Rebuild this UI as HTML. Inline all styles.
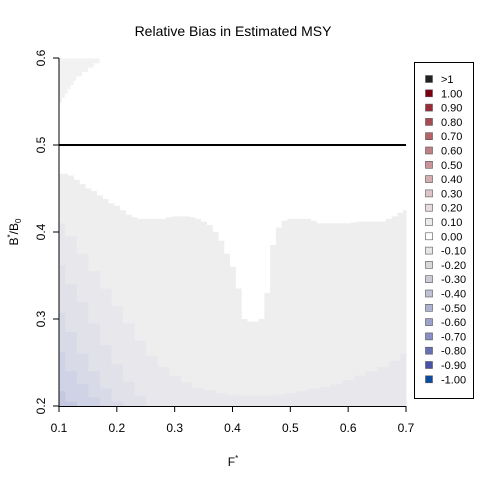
<!DOCTYPE html>
<html><head><meta charset="utf-8"><style>
body{margin:0;background:#fff;font-family:"Liberation Sans",sans-serif}
svg text{font-family:"Liberation Sans",sans-serif}
</style></head><body>
<svg id="c" width="480" height="480" xmlns="http://www.w3.org/2000/svg">
<text x="233" y="36" font-size="14" text-anchor="middle">Relative Bias in Estimated MSY</text>
<g id="plot"></g>
<g id="axes"></g>
<g id="legend"></g>
</svg>
<script>
const xFine=[0.10,0.11,0.12,0.13,0.14,0.15,0.16,0.17,0.18,0.19,0.20,0.21,0.22,0.23,0.24,0.25,0.26,0.27,0.28,0.29,0.30,0.31,0.32,0.33,0.34,0.35,0.36,0.37,0.38,0.39,0.40,0.41,0.42,0.43,0.44,0.45,0.46,0.47,0.48,0.49,0.50,0.51,0.52,0.53,0.54,0.55,0.56,0.57,0.58,0.59,0.60,0.61,0.62,0.63,0.64,0.65,0.66,0.67,0.68,0.69,0.70];
const level01Top=[0.467,0.467,0.465,0.46,0.455,0.45,0.447,0.442,0.438,0.433,0.43,0.425,0.42,0.417,0.415,0.415,0.415,0.415,0.415,0.417,0.418,0.418,0.418,0.417,0.415,0.412,0.408,0.40,0.39,0.375,0.36,0.335,0.30,0.297,0.297,0.30,0.33,0.385,0.405,0.413,0.415,0.415,0.415,0.415,0.413,0.41,0.41,0.41,0.41,0.41,0.41,0.411,0.412,0.412,0.412,0.412,0.412,0.415,0.418,0.422,0.425];
const xGrid=[0.10,0.12,0.14,0.16,0.18,0.20,0.22,0.24,0.26,0.28,0.30,0.32,0.34,0.36,0.38,0.40,0.42,0.44,0.46,0.48,0.50,0.52,0.54,0.56,0.58,0.60,0.62,0.64,0.66,0.68,0.70];
const level02Top=[0.41,0.395,0.375,0.355,0.335,0.315,0.295,0.275,0.258,0.245,0.235,0.227,0.221,0.218,0.215,0.213,0.212,0.212,0.212,0.213,0.215,0.217,0.22,0.222,0.225,0.23,0.235,0.24,0.245,0.252,0.26];
const level03Top=[0.362,0.34,0.32,0.295,0.27,0.248,0.228,0.212,0.2,0.2,0.2,0.2,0.2,0.2,0.2,0.2,0.2,0.2,0.2,0.2,0.2,0.2,0.2,0.2,0.2,0.2,0.2,0.2,0.2,0.2,0.2];
const level04Top=[0.307,0.285,0.26,0.24,0.22,0.205,0.2,0.2,0.2,0.2,0.2,0.2,0.2,0.2,0.2,0.2,0.2,0.2,0.2,0.2,0.2,0.2,0.2,0.2,0.2,0.2,0.2,0.2,0.2,0.2,0.2];
const level05Top=[0.262,0.24,0.225,0.21,0.2,0.2,0.2,0.2,0.2,0.2,0.2,0.2,0.2,0.2,0.2,0.2,0.2,0.2,0.2,0.2,0.2,0.2,0.2,0.2,0.2,0.2,0.2,0.2,0.2,0.2,0.2];
const level06Top=[0.217,0.205,0.2,0.2,0.2,0.2,0.2,0.2,0.2,0.2,0.2,0.2,0.2,0.2,0.2,0.2,0.2,0.2,0.2,0.2,0.2,0.2,0.2,0.2,0.2,0.2,0.2,0.2,0.2,0.2,0.2];
const patchY=[0.597,0.592,0.587,0.582,0.577,0.572,0.567,0.562,0.557,0.552];
const patchXmax=[0.17,0.16,0.15,0.14,0.13,0.125,0.12,0.115,0.11,0.105];
const refLineY=0.5;
const xTicks=[0.1,0.2,0.3,0.4,0.5,0.6,0.7];
const yTicks=[0.2,0.3,0.4,0.5,0.6];
const legendLabels=[">1","1.00","0.90","0.80","0.70","0.60","0.50","0.40","0.30","0.20","0.10","0.00","-0.10","-0.20","-0.30","-0.40","-0.50","-0.60","-0.70","-0.80","-0.90","-1.00"];
const legendColors=["#222222","#7a0010","#9a2a35","#a84b55","#b5626a","#c08086","#c9959a","#d4aeb1","#ddc6c8","#e8dcdd","#ebebeb","#ffffff","#e6e6e6","#d8d8dc","#ccccd6","#bfc1d6","#aeb2d5","#9ca2cd","#878fc6","#6670b3","#4653a8","#0b4ca0"];
const NS="http://www.w3.org/2000/svg";
const X0=59,X1=406,Y0=406,Y1=58;
const sx=v=>X0+(v-0.1)/0.6*(X1-X0);
const sy=v=>Y0-(v-0.2)/0.4*(Y0-Y1);
function mk(t,a,p){const e=document.createElementNS(NS,t);for(const k in a)e.setAttribute(k,a[k]);p.appendChild(e);return e;}
const plot=document.getElementById('plot');
function band(xs,tops,half,color,idx){
  const g=mk('g',{},plot);
  
  
  xs.forEach((x,i)=>{
    const a=Math.max(0.1,x-half),b=Math.min(0.7,x+half);
    const top=tops[i];if(top<=0.2)return;
    const r=mk('rect',{x:sx(a),y:sy(top),width:sx(b)-sx(a)+0.5,height:sy(0.2)-sy(top),fill:color},g);
    
    
  });
}
band(xFine,level01Top,0.005,"#eeeeee",1);
band(xGrid,level02Top,0.01,"#e8e8ec",2);
band(xGrid,level03Top,0.01,"#e1e1ea",3);
band(xGrid,level04Top,0.01,"#d9dae8",4);
band(xGrid,level05Top,0.01,"#d0d2e5",5);
band(xGrid,level06Top,0.01,"#c5c8e0",6);
patchY.forEach((y,i)=>{
  const r=mk('rect',{x:sx(0.1),y:sy(y+0.0025),width:sx(patchXmax[i])-sx(0.1),height:sy(y-0.0025)-sy(y+0.0025)+0.5,fill:"#f2f2f2"},plot);
  
  
});
const rl=mk('line',{x1:X0,x2:X1,y1:sy(refLineY),y2:sy(refLineY),stroke:"#000","stroke-width":2},plot);


const ax=document.getElementById('axes');
mk('line',{x1:X0,x2:X0,y1:Y1,y2:Y0,stroke:"#000"},ax);
mk('line',{x1:X0,x2:X1,y1:Y0+0.5,y2:Y0+0.5,stroke:"#000"},ax);
xTicks.forEach(v=>{
  mk('line',{x1:sx(v),x2:sx(v),y1:Y0,y2:Y0+6,stroke:"#000"},ax);
  const t=mk('text',{x:sx(v),y:432,"font-size":12,"text-anchor":"middle"},ax);t.textContent=v.toFixed(1);
  
  
});
yTicks.forEach(v=>{
  mk('line',{x1:X0-6,x2:X0,y1:sy(v),y2:sy(v),stroke:"#000"},ax);
  const t=mk('text',{x:45,y:sy(v),"font-size":12,"text-anchor":"middle",transform:`rotate(-90 45 ${sy(v)})`},ax);t.textContent=v.toFixed(1);
  
  
});
const xl=mk('text',{x:233,y:466,"font-size":12,"text-anchor":"middle"},ax);
xl.innerHTML='F<tspan font-size="8" dy="-5">*</tspan>';


const yl=mk('text',{x:18,y:232,"font-size":12,"text-anchor":"middle",transform:"rotate(-90 18 232)"},ax);
yl.innerHTML='B<tspan font-size="8" dy="-5">*</tspan><tspan dy="5">/B</tspan><tspan font-size="8" dy="3">0</tspan>';


const lg=document.getElementById('legend');
mk('rect',{x:414.5,y:62.5,width:59,height:336,fill:"#fff",stroke:"#000"},lg);
legendLabels.forEach((l,i)=>{
  const y=79+i*14.3;
  const s=mk('rect',{x:425.5,y:y-3.5,width:7,height:7,fill:legendColors[i],stroke:"#555","stroke-width":0.6},lg);
  
  
  const t=mk('text',{x:441,y:y+4,"font-size":11},lg);t.textContent=l;
  
  
});
</script>
</body></html>
